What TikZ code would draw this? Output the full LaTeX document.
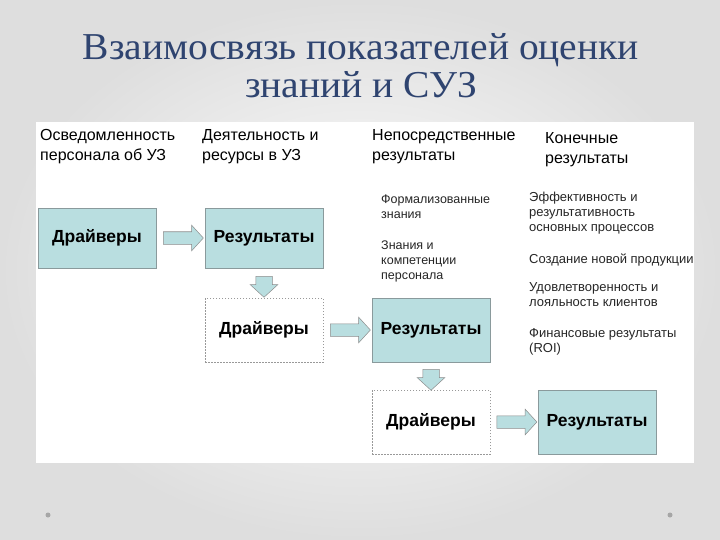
\documentclass[tikz,border=0pt]{standalone}
\usepackage{fontspec}
\setmainfont{Liberation Sans}
\newfontfamily\titlefont{Liberation Serif}
\usetikzlibrary{shapes.arrows,calc}
\definecolor{boxfill}{HTML}{B9DEE0}
\definecolor{boxline}{HTML}{8A9A9C}
\definecolor{titlecol}{HTML}{2F4470}
\definecolor{bgray}{HTML}{DEDEDE}
\tikzset{
  fbox/.style={draw=boxline, line width=0.6pt, fill=boxfill, minimum width=118pt, minimum height=60pt, inner sep=0pt, font=\bfseries\fontsize{17.5}{20}\selectfont},
  dbox/.style={draw=gray!80, dash pattern=on 1.5pt off 1.5pt, line width=0.6pt, fill=white, minimum width=118pt, minimum height=64pt, inner sep=0pt, font=\bfseries\fontsize{17.5}{20}\selectfont},
  harrow/.style={single arrow, draw=gray!90, line width=0.5pt, fill=boxfill, minimum height=40pt, inner xsep=0pt, inner ysep=6pt, single arrow head extend=6.5pt, single arrow tip angle=95},
  varrow/.style={harrow, rotate=-90, minimum height=21pt, inner ysep=8pt, single arrow head extend=5.5pt},
  hdr/.style={anchor=north west, align=left, font=\fontsize{16}{20}\selectfont, inner sep=0pt},
  sml/.style={anchor=north west, align=left, font=\fontsize{12.5}{15}\selectfont, inner sep=0pt, text=black!85},
  smlb/.style={sml, font=\fontsize{13}{15}\selectfont},
}
\begin{document}
\begin{tikzpicture}[x=1pt,y=-1pt]
\useasboundingbox (0,0) rectangle (720,540);
\shade[inner color=white, outer color=bgray] (0,0) rectangle (720,540);
\fill[white] (36,122) rectangle (694,463);
\fill[gray!70] (48,515) circle (2.5pt) (670,515) circle (2.5pt);
\node[font=\titlefont\fontsize{38}{38}\selectfont, text=titlecol, align=center, inner sep=0pt, anchor=base] (title) at (361,60) {\scalebox{1.04}[1]{Взаимосвязь показателей оценки}};
\node[font=\titlefont\fontsize{38}{38}\selectfont, text=titlecol, inner sep=0pt, anchor=base] (title2) at (361,98) {\scalebox{1.04}[1]{знаний и СУЗ}};
% headers
\node[hdr] (h1) at (40,129.5) {Осведомленность\\персонала об УЗ};
\node[hdr] (h2) at (202,129.5) {Деятельность и\\ресурсы в УЗ};
\node[hdr] (h3) at (372,129.5) {Непосредственные\\результаты};
\node[hdr] (h4) at (545,132) {Конечные\\результаты};
% small text
\node[sml] (s1) at (381,195) {Формализованные\\знания};
\node[sml] (s2) at (381,241) {Знания и\\компетенции\\персонала};
\node[smlb] (s3) at (529,191.5) {Эффективность и\\результативность\\основных процессов};
\node[smlb] (s4) at (529,253.5) {Создание новой продукции};
\node[smlb] (s5) at (529,282.5) {Удовлетворенность и\\лояльность клиентов};
\node[smlb] (s6) at (529,328.5) {Финансовые результаты\\(ROI)};
% boxes
\node[fbox] (b1) at (97,238) {Драйверы};
\node[fbox] (b2) at (264,238) {Результаты};
\node[dbox] (b3) at (264,330) {Драйверы};
\node[fbox, minimum height=64pt] (b4) at (431,330) {Результаты};
\node[dbox] (b5) at (431,422) {Драйверы};
\node[fbox, minimum height=64pt] (b6) at (597,422) {Результаты};
% arrows
\node[harrow] (a1) at ($(b1.east)!0.5!(b2.west)$) {};
\node[harrow] (a2) at ($(b3.east)!0.5!(b4.west)$) {};
\node[harrow] (a3) at ($(b5.east)!0.5!(b6.west)$) {};
\node[varrow] (d1) at ($(b2.south)!0.5!(b3.north)$) {};
\node[varrow] (d2) at ($(b4.south)!0.5!(b5.north)$) {};
\end{tikzpicture}
\end{document}
